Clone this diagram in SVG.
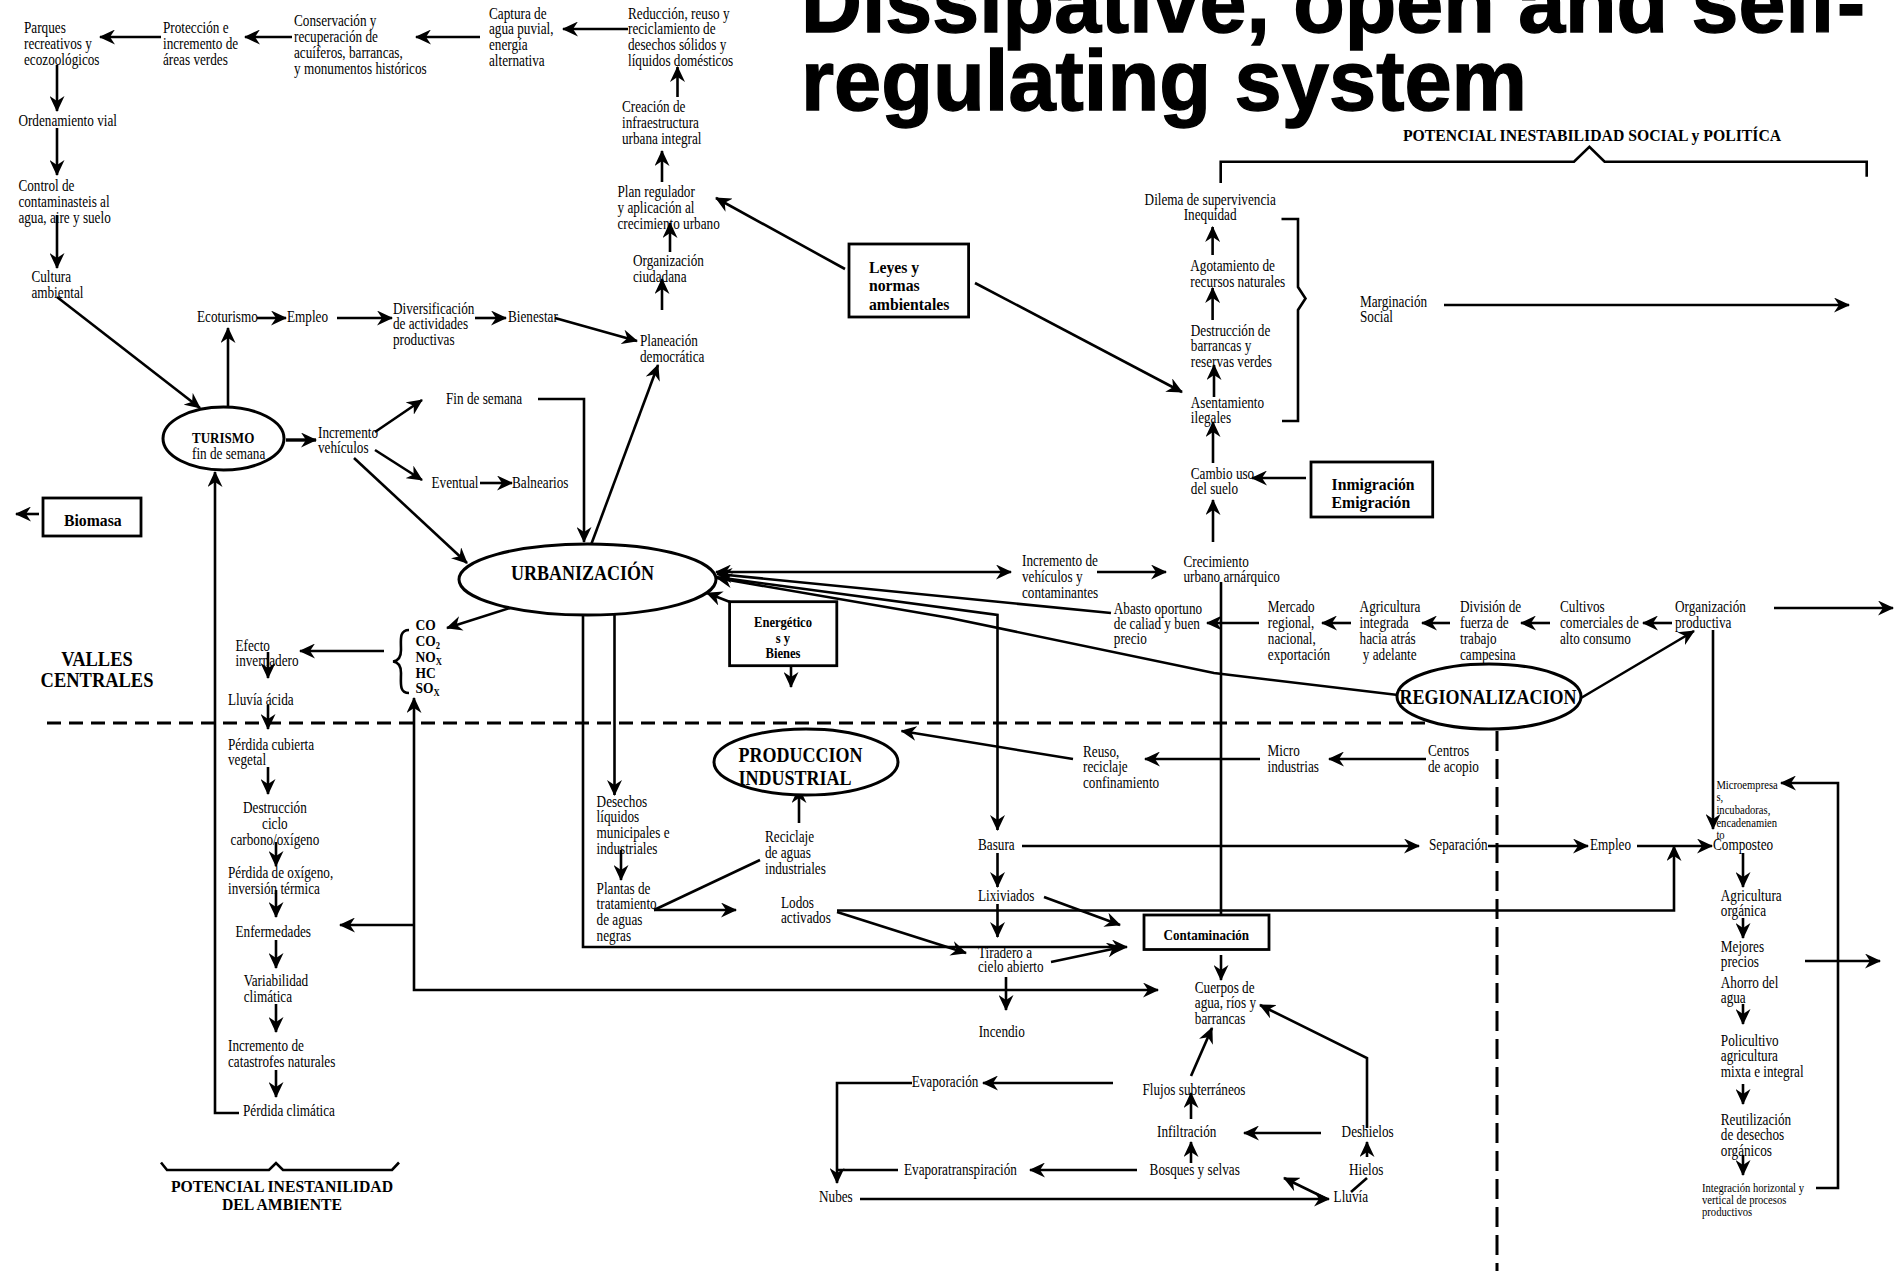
<svg xmlns="http://www.w3.org/2000/svg" width="1895" height="1271" viewBox="0 0 1895 1271">
<defs>
<style>
.t{font-family:"Liberation Serif","Times New Roman",serif;font-size:16.5px;fill:#000}
.s{font-family:"Liberation Serif","Times New Roman",serif;font-size:12.5px;fill:#000}
.b{font-family:"Liberation Serif","Times New Roman",serif;font-weight:bold;fill:#000}
.title{font-family:"Liberation Sans",Arial,sans-serif;font-weight:bold;font-size:85px;fill:#000;stroke:#000;stroke-width:1.4}
.c{fill:none;stroke:#000;stroke-width:2.6;stroke-linejoin:miter}
.a{marker-end:url(#ah)}
.a2{marker-start:url(#ah);marker-end:url(#ah)}
.box{fill:#fff;stroke:#000;stroke-width:2.8}
.ell{fill:#fff;stroke:#000;stroke-width:3}
.dh{fill:none;stroke:#000;stroke-width:3;stroke-dasharray:14 8}
.dv{fill:none;stroke:#000;stroke-width:3;stroke-dasharray:20 8}
.br{fill:none;stroke:#000;stroke-width:2.6}
</style>
<marker id="ah" markerUnits="userSpaceOnUse" viewBox="0 0 16 15" markerWidth="16" markerHeight="15" refX="15" refY="7.5" orient="auto-start-reverse">
<path d="M0,0 L16,7.5 L0,15 L5,7.5 Z" fill="#000"/>
</marker>
</defs>
<rect width="1895" height="1271" fill="#fff"/>

<!-- heading -->
<g id="title">
<text class="title" x="801" y="32" textLength="1064" lengthAdjust="spacingAndGlyphs">Dissipative, open and self-</text>
<text class="title" x="801" y="110" textLength="726" lengthAdjust="spacingAndGlyphs">regulating system</text>
</g>

<!-- region separators and braces -->
<g id="separators">
<path class="dh" d="M47,723 L1430,723"/>
<path class="dv" d="M1497,731 L1497,1271"/>
<path class="br" d="M1220.7,183 L1220.7,161.7 L1574,161.7 L1589.4,146.7 L1604.6,161.7 L1866.7,161.7 L1866.7,176.7"/>
<path class="br" d="M1281.5,219 L1298,219 L1298,287 L1305.5,298.5 L1298,310 L1298,421 L1282,421"/>
<path class="br" d="M161,1162.5 L167,1170 L269,1170 L276,1163 L283,1170 L392,1170 L399,1162.5"/>
<path class="br" stroke-width="3.2" d="M409,630 C399,630 401,640 401,650 C401,658 398,661 393,661.5 C398,662 401,665 401,673 C401,683 399,693 409,693"/>
</g>

<g id="connectors" class="c">
<!-- top chain -->
<path class="a" d="M628,29 L563,29"/>
<path class="a" d="M480,37 L416,37"/>
<path class="a" d="M292,37 L245,37"/>
<path class="a" d="M161,37 L100,37"/>
<path class="a" d="M57,65 L57,111"/>
<path class="a" d="M57,128 L57,175"/>
<path class="a" d="M57,215 L57,268"/>
<path class="a" d="M57,297 L200,408"/>
<path class="a" d="M228,407 L228,328"/>
<path class="a" d="M257,318 L286,318"/>
<path class="a" d="M337,318 L392,318"/>
<path class="a" d="M475,318 L506,318"/>
<path class="a" d="M555,318 L637,341"/>
<path class="a" d="M662,310 L662,279"/>
<path class="a" d="M670,252 L670,223"/>
<path class="a" d="M662,182 L662,151"/>
<path class="a" d="M677.5,97 L677.5,67"/>
<path class="a" d="M845,269 L716,198"/>
<path class="a" d="M975,283 L1182,392"/>
<!-- turismo -->
<path class="a" stroke-width="3.4" d="M286,440 L316,440"/>
<path class="a" d="M375,432 L422,400"/>
<path class="a" d="M375,450 L422,480"/>
<path class="a" d="M480,483 L512,483"/>
<path class="a" d="M354,458 L467,563"/>
<path class="a" d="M538,399 L584,399 L584,542"/>
<path class="a" d="M591,545 L658,365"/>
<path class="a" d="M39,514 L16,514"/>
<!-- emissions column -->
<path class="a" d="M510,608 L447,628"/>
<path class="a" d="M384,651 L300,651"/>
<path class="a" d="M268,652 L268,678"/>
<path class="a" d="M268,705 L268,729"/>
<path class="a" d="M268,767 L268,794"/>
<path class="a" d="M276,842 L276,866"/>
<path class="a" d="M276,890 L276,917"/>
<path class="a" d="M276,940 L276,968"/>
<path class="a" d="M276,1004 L276,1032"/>
<path class="a" d="M276,1070 L276,1097"/>
<path class="a" d="M239,1113 L215,1113 L215,472"/>
<path class="a2" d="M414,698 L414,990 L1158,990"/>
<path class="a" d="M414,925 L340,925"/>
<!-- urbanización outputs -->
<path class="a" d="M583,615 L583,947 L1127,947"/>
<path class="a" d="M614.5,615 L614.5,795"/>
<path class="a" d="M621,850 L621,880"/>
<path d="M654,910 L760,860"/>
<path class="a" d="M654,910 L736,910"/>
<path class="a" d="M799,823 L799,788"/>
<path class="a" d="M837,912 L966,953"/>
<path class="a" d="M837,910.5 L1674,910.5 L1674,846"/>
<path class="a" d="M730,602 L707,593"/>
<path class="a" d="M791,667 L791,687"/>
<path class="a2" d="M716,572 L1011,572"/>
<path class="a" d="M1097,572 L1166,572"/>
<path class="a" d="M716,577 L997.5,615 L997.5,830"/>
<path class="a" d="M1111,613 L717,574"/>
<path class="a" d="M1398,695 L1214,673 L950,618 L717,578"/>
<!-- social chain -->
<path class="a" d="M1213,542 L1213,500"/>
<path class="a" d="M1213,463 L1213,422"/>
<path class="a" d="M1214,397 L1214,365"/>
<path class="a" d="M1212.6,320 L1212.6,288"/>
<path class="a" d="M1212.6,255 L1212.6,227"/>
<path class="a" d="M1306,478 L1252,478"/>
<path class="a" d="M1444,305 L1849,305"/>
<path d="M1221,582 L1221,915"/>
<path class="a" d="M1221,955 L1221,980"/>
<!-- regional chain -->
<path class="a" d="M1259,623 L1207,623"/>
<path class="a" d="M1351,623 L1322,623"/>
<path class="a" d="M1450,623 L1422,623"/>
<path class="a" d="M1550,623 L1521,623"/>
<path class="a" d="M1672,623 L1643,623"/>
<path class="a" d="M1774,608 L1893,608"/>
<path class="a" d="M1581,698 L1694,631"/>
<path class="a" d="M1713,630 L1713,829"/>
<path class="a" d="M1073,759 L901.5,731"/>
<path class="a" d="M1260,759 L1145,759"/>
<path class="a" d="M1426,759 L1329,759"/>
<!-- waste -->
<path class="a" d="M1022,846 L1419,846"/>
<path class="a" d="M1488,846 L1588,846"/>
<path class="a" d="M1637,846 L1712,846"/>
<path class="a" d="M997.5,853 L997.5,887"/>
<path class="a" d="M997.5,904 L997.5,937"/>
<path class="a" d="M1044,897 L1120,925"/>
<path class="a" d="M1051,962 L1122,947"/>
<path class="a" d="M1006,977 L1006,1010"/>
<!-- organic chain -->
<path class="a" d="M1743,853 L1743,887"/>
<path class="a" d="M1743,918 L1743,938"/>
<path class="a" d="M1805,961 L1880,961"/>
<path class="a" d="M1743,1004 L1743,1024"/>
<path class="a" d="M1743,1084 L1743,1104"/>
<path class="a" d="M1743,1155 L1743,1175"/>
<path class="a" d="M1816,1188 L1838,1188 L1838,783 L1781,783"/>
<!-- water cycle -->
<path class="a" d="M1191,1076 L1212,1028"/>
<path class="a" d="M1367,1128 L1367,1058 L1260,1005"/>
<path class="a" d="M1113,1083 L983,1083"/>
<path class="a" d="M912,1083 L837,1083 L837,1183"/>
<path d="M898,1170 L837,1170"/>
<path class="a" d="M1137,1170 L1030,1170"/>
<path class="a" d="M1191,1163 L1191,1142"/>
<path class="a" d="M1191,1119 L1191,1093"/>
<path class="a" d="M1321,1133 L1244,1133"/>
<path class="a" d="M1367,1157 L1367,1142"/>
<path d="M1351,1192 L1367,1178"/>
<path class="a" d="M860,1199 L1329,1199"/>
<path class="a" d="M1327,1199 L1284,1178"/>
</g>

<!-- top chain -->
<g id="n-parques"><text class="t" transform="translate(24 33) scale(.8 1)"><tspan x="0">Parques</tspan><tspan x="0" dy="16">recreativos y</tspan><tspan x="0" dy="16">ecozoológicos</tspan></text></g>
<g id="n-proteccion"><text class="t" transform="translate(163 33) scale(.8 1)"><tspan x="0">Protección e</tspan><tspan x="0" dy="16">incremento de</tspan><tspan x="0" dy="16">áreas verdes</tspan></text></g>
<g id="n-conservacion"><text class="t" transform="translate(294 26) scale(.8 1)"><tspan x="0">Conservación y</tspan><tspan x="0" dy="16">recuperación de</tspan><tspan x="0" dy="16">acuíferos, barrancas,</tspan><tspan x="0" dy="16">y monumentos históricos</tspan></text></g>
<g id="n-captura"><text class="t" transform="translate(489 18.5) scale(.8 1)"><tspan x="0">Captura de</tspan><tspan x="0" dy="16">agua puvial,</tspan><tspan x="0" dy="16">energía</tspan><tspan x="0" dy="16">alternativa</tspan></text></g>
<g id="n-reduccion"><text class="t" transform="translate(628 18.5) scale(.8 1)"><tspan x="0">Reducción, reuso y</tspan><tspan x="0" dy="16">reciclamiento de</tspan><tspan x="0" dy="16">desechos sólidos y</tspan><tspan x="0" dy="16">líquidos domésticos</tspan></text></g>
<g id="n-creacion"><text class="t" transform="translate(622 112) scale(.8 1)"><tspan x="0">Creación de</tspan><tspan x="0" dy="16">infraestructura</tspan><tspan x="0" dy="16">urbana integral</tspan></text></g>
<g id="n-plan"><text class="t" transform="translate(617.5 197) scale(.8 1)"><tspan x="0">Plan regulador</tspan><tspan x="0" dy="16">y aplicación al</tspan><tspan x="0" dy="16">crecimiento urbano</tspan></text></g>
<g id="n-organizacion-ciudadana"><text class="t" transform="translate(633 266) scale(.8 1)"><tspan x="0">Organización</tspan><tspan x="0" dy="16">ciudadana</tspan></text></g>
<g id="n-planeacion"><text class="t" transform="translate(640 346) scale(.8 1)"><tspan x="0">Planeación</tspan><tspan x="0" dy="16">democrática</tspan></text></g>
<g id="n-ordenamiento"><text class="t" transform="translate(18.4 125.5) scale(.8 1)">Ordenamiento vial</text></g>
<g id="n-control"><text class="t" transform="translate(18.4 191) scale(.8 1)"><tspan x="0">Control de</tspan><tspan x="0" dy="16">contaminasteis al</tspan><tspan x="0" dy="16">agua, aire y suelo</tspan></text></g>
<g id="n-cultura"><text class="t" transform="translate(31.4 282) scale(.8 1)"><tspan x="0">Cultura</tspan><tspan x="0" dy="16">ambiental</tspan></text></g>
<g id="n-ecoturismo"><text class="t" transform="translate(197 322) scale(.8 1)">Ecoturismo</text></g>
<g id="n-empleo1"><text class="t" transform="translate(287 322) scale(.8 1)">Empleo</text></g>
<g id="n-diversificacion"><text class="t" transform="translate(393 313.5) scale(.8 1)"><tspan x="0">Diversificación</tspan><tspan x="0" dy="16">de actividades</tspan><tspan x="0" dy="16">productivas</tspan></text></g>
<g id="n-bienestar"><text class="t" transform="translate(508 322) scale(.8 1)">Bienestar</text></g>

<g id="n-leyes"><rect class="box" x="849" y="244" width="119.6" height="73"/><text class="b" font-size="17.5" transform="translate(869 273) scale(.9 1)"><tspan x="0">Leyes y</tspan><tspan x="0" dy="18.5">normas</tspan><tspan x="0" dy="18.5">ambientales</tspan></text></g>

<!-- turismo and urbanización -->
<g id="n-turismo"><ellipse class="ell" cx="223.5" cy="438.5" rx="60.5" ry="31.5"/><text class="b" font-size="14.5" transform="translate(192 443) scale(.9 1)">TURISMO</text><text class="t" transform="translate(192 459) scale(.8 1)">fin de semana</text></g>
<g id="n-incremento-vehiculos"><text class="t" transform="translate(318 437.5) scale(.8 1)"><tspan x="0">Incremento</tspan><tspan x="0" dy="16">vehículos</tspan></text></g>
<g id="n-fin-semana"><text class="t" transform="translate(446 403.5) scale(.8 1)">Fin de semana</text></g>
<g id="n-eventual"><text class="t" transform="translate(431.5 487.5) scale(.8 1)">Eventual</text></g>
<g id="n-balnearios"><text class="t" transform="translate(512 487.5) scale(.8 1)">Balnearios</text></g>
<g id="n-biomasa"><rect class="box" x="43" y="498" width="98" height="38"/><text class="b" font-size="17.5" transform="translate(64 526) scale(.9 1)">Biomasa</text></g>
<g id="n-urbanizacion"><ellipse class="ell" cx="587.5" cy="579.5" rx="128.5" ry="35.5"/><text class="b" font-size="20" transform="translate(511 580) scale(.9 1)">URBANIZACIÓN</text></g>
<g id="n-valles"><text class="b" font-size="20.5" text-anchor="middle" transform="translate(97 666) scale(.9 1)"><tspan x="0">VALLES</tspan><tspan x="0" dy="21">CENTRALES</tspan></text></g>
<g id="n-emisiones"><text class="b" font-size="15" transform="translate(415.5 630) scale(.9 1)"><tspan x="0" y="0">CO</tspan><tspan x="0" y="16">CO<tspan font-size="9.5" dy="3">2</tspan></tspan><tspan x="0" y="32">NO<tspan font-size="9.5" dy="3">X</tspan></tspan><tspan x="0" y="48">HC</tspan><tspan x="0" y="63">SO<tspan font-size="9.5" dy="3">X</tspan></tspan></text></g>
<g id="n-energeticos"><rect class="box" x="729.6" y="601.7" width="107.2" height="64"/><text class="b" font-size="14" text-anchor="middle" transform="translate(783 627) scale(.9 1)"><tspan x="0">Energético</tspan><tspan x="0" dy="16">s y</tspan><tspan x="0" dy="15">Bienes</tspan></text></g>

<!-- environmental column -->
<g id="n-efecto"><text class="t" transform="translate(235.5 650.5) scale(.8 1)"><tspan x="0">Efecto</tspan><tspan x="0" dy="16">invernadero</tspan></text></g>
<g id="n-lluvia-acida"><text class="t" transform="translate(228 704.5) scale(.8 1)">Lluvía ácida</text></g>
<g id="n-perdida-cubierta"><text class="t" transform="translate(228 749.5) scale(.8 1)"><tspan x="0">Pérdida cubierta</tspan><tspan x="0" dy="16">vegetal</tspan></text></g>
<g id="n-destruccion-ciclo"><text class="t" transform="translate(230.6 813) scale(.8 1)"><tspan x="15.5">Destrucción</tspan><tspan x="39.3" dy="16">ciclo</tspan><tspan x="0" dy="16">carbono/oxígeno</tspan></text></g>
<g id="n-perdida-oxigeno"><text class="t" transform="translate(228 878) scale(.8 1)"><tspan x="0">Pérdida de oxígeno,</tspan><tspan x="0" dy="16">inversión térmica</tspan></text></g>
<g id="n-enfermedades"><text class="t" transform="translate(235.5 936.5) scale(.8 1)">Enfermedades</text></g>
<g id="n-variabilidad"><text class="t" transform="translate(243.7 986) scale(.8 1)"><tspan x="0">Variabilidad</tspan><tspan x="0" dy="16">climática</tspan></text></g>
<g id="n-catastrofes"><text class="t" transform="translate(228 1051) scale(.8 1)"><tspan x="0">Incremento de</tspan><tspan x="0" dy="16">catastrofes naturales</tspan></text></g>
<g id="n-perdida-climatica"><text class="t" transform="translate(243 1116) scale(.8 1)">Pérdida climática</text></g>
<g id="n-inestabilidad-ambiente"><text class="b" font-size="17.5" text-anchor="middle" transform="translate(282 1192) scale(.9 1)"><tspan x="0">POTENCIAL INESTANILIDAD</tspan><tspan x="0" dy="18">DEL AMBIENTE</tspan></text></g>

<!-- industrial area -->
<g id="n-desechos"><text class="t" transform="translate(596.6 806.5) scale(.8 1)"><tspan x="0">Desechos</tspan><tspan x="0" dy="16">líquidos</tspan><tspan x="0" dy="16">municipales e</tspan><tspan x="0" dy="16">industriales</tspan></text></g>
<g id="n-plantas"><text class="t" transform="translate(596.6 893.5) scale(.8 1)"><tspan x="0">Plantas de</tspan><tspan x="0" dy="16">tratamiento</tspan><tspan x="0" dy="16">de aguas</tspan><tspan x="0" dy="16">negras</tspan></text></g>
<g id="n-reciclaje"><text class="t" transform="translate(765 842) scale(.8 1)"><tspan x="0">Reciclaje</tspan><tspan x="0" dy="16">de aguas</tspan><tspan x="0" dy="16">industriales</tspan></text></g>
<g id="n-lodos"><text class="t" transform="translate(781 907.5) scale(.8 1)"><tspan x="0">Lodos</tspan><tspan x="0" dy="16">activados</tspan></text></g>
<g id="n-produccion"><ellipse class="ell" cx="806" cy="762" rx="92" ry="33"/><text class="b" font-size="20" transform="translate(738.6 762) scale(.9 1)"><tspan x="0">PRODUCCION</tspan><tspan x="0" dy="23">INDUSTRIAL</tspan></text></g>
<g id="n-basura"><text class="t" transform="translate(978 849.5) scale(.8 1)">Basura</text></g>
<g id="n-lixiviados"><text class="t" transform="translate(978 900.5) scale(.8 1)">Lixiviados</text></g>
<g id="n-tiradero"><text class="t" transform="translate(978 957.5) scale(.8 1)"><tspan x="0">Tiradero a</tspan><tspan x="0" dy="15">cielo abierto</tspan></text></g>
<g id="n-incendio"><text class="t" transform="translate(978.7 1037) scale(.8 1)">Incendio</text></g>
<g id="n-reuso"><text class="t" transform="translate(1083 756.5) scale(.8 1)"><tspan x="0">Reuso,</tspan><tspan x="0" dy="16">reciclaje</tspan><tspan x="0" dy="16">confinamiento</tspan></text></g>
<g id="n-micro"><text class="t" transform="translate(1267.6 756) scale(.8 1)"><tspan x="0">Micro</tspan><tspan x="0" dy="16">industrias</tspan></text></g>
<g id="n-centros"><text class="t" transform="translate(1428 756) scale(.8 1)"><tspan x="0">Centros</tspan><tspan x="0" dy="16">de acopio</tspan></text></g>
<g id="n-contaminacion"><rect class="box" x="1144" y="915" width="125" height="34.5"/><text class="b" font-size="14.5" transform="translate(1163.6 940) scale(.9 1)">Contaminación</text></g>
<g id="n-cuerpos"><text class="t" transform="translate(1194.8 992.5) scale(.8 1)"><tspan x="0">Cuerpos de</tspan><tspan x="0" dy="16">agua, ríos y</tspan><tspan x="0" dy="16">barrancas</tspan></text></g>

<!-- water cycle -->
<g id="n-flujos"><text class="t" transform="translate(1142.5 1094.5) scale(.8 1)">Flujos subterráneos</text></g>
<g id="n-evaporacion"><text class="t" transform="translate(911.7 1087) scale(.8 1)">Evaporación</text></g>
<g id="n-infiltracion"><text class="t" transform="translate(1157 1137) scale(.8 1)">Infiltración</text></g>
<g id="n-deshielos"><text class="t" transform="translate(1341.6 1137) scale(.8 1)">Deshielos</text></g>
<g id="n-evapotranspiracion"><text class="t" transform="translate(904 1174.5) scale(.8 1)">Evaporatranspiración</text></g>
<g id="n-bosques"><text class="t" transform="translate(1149.6 1174.5) scale(.8 1)">Bosques y selvas</text></g>
<g id="n-hielos"><text class="t" transform="translate(1349 1174.5) scale(.8 1)">Hielos</text></g>
<g id="n-nubes"><text class="t" transform="translate(819 1202) scale(.8 1)">Nubes</text></g>
<g id="n-lluvia"><text class="t" transform="translate(1333.6 1202) scale(.8 1)">Lluvía</text></g>

<!-- urban growth and social chain -->
<g id="n-incremento-contaminantes"><text class="t" transform="translate(1022 566) scale(.8 1)"><tspan x="0">Incremento de</tspan><tspan x="0" dy="16">vehículos y</tspan><tspan x="0" dy="16">contaminantes</tspan></text></g>
<g id="n-crecimiento"><text class="t" transform="translate(1183.5 566.5) scale(.8 1)"><tspan x="0">Crecimiento</tspan><tspan x="0" dy="16">urbano arnárquico</tspan></text></g>
<g id="n-abasto"><text class="t" transform="translate(1113.8 613.5) scale(.8 1)"><tspan x="0">Abasto oportuno</tspan><tspan x="0" dy="15.5">de caliad y buen</tspan><tspan x="0" dy="15.5">precio</tspan></text></g>
<g id="n-cambio"><text class="t" transform="translate(1190.8 478.5) scale(.8 1)"><tspan x="0">Cambio uso</tspan><tspan x="0" dy="16">del suelo</tspan></text></g>
<g id="n-asentamiento"><text class="t" transform="translate(1190.8 407.5) scale(.8 1)"><tspan x="0">Asentamiento</tspan><tspan x="0" dy="16">ilegales</tspan></text></g>
<g id="n-destruccion-barrancas"><text class="t" transform="translate(1190.8 335.5) scale(.8 1)"><tspan x="0">Destrucción de</tspan><tspan x="0" dy="16">barrancas y</tspan><tspan x="0" dy="16">reservas verdes</tspan></text></g>
<g id="n-agotamiento"><text class="t" transform="translate(1190.3 271) scale(.8 1)"><tspan x="0">Agotamiento de</tspan><tspan x="0" dy="16">recursos naturales</tspan></text></g>
<g id="n-dilema"><text class="t" transform="translate(1144.6 204.5) scale(.8 1)"><tspan x="0">Dilema de supervivencia</tspan><tspan x="48.9" dy="16">Inequidad</tspan></text></g>
<g id="n-marginacion"><text class="t" transform="translate(1360 306.5) scale(.8 1)"><tspan x="0">Marginación</tspan><tspan x="0" dy="16">Social</tspan></text></g>
<g id="n-inestabilidad-social"><text class="b" font-size="17.5" transform="translate(1403 141) scale(.9 1)">POTENCIAL INESTABILIDAD SOCIAL y POLITÍCA</text></g>
<g id="n-inmigracion"><rect class="box" x="1311" y="462" width="121.7" height="55"/><text class="b" font-size="17.5" transform="translate(1331.6 490) scale(.9 1)"><tspan x="0">Inmigración</tspan><tspan x="0" dy="18.5">Emigración</tspan></text></g>

<!-- regional chain -->
<g id="n-mercado"><text class="t" transform="translate(1267.8 612) scale(.8 1)"><tspan x="0">Mercado</tspan><tspan x="0" dy="16">regional,</tspan><tspan x="0" dy="16">nacional,</tspan><tspan x="0" dy="16">exportación</tspan></text></g>
<g id="n-agricultura-integrada"><text class="t" transform="translate(1359.6 612) scale(.8 1)"><tspan x="0">Agricultura</tspan><tspan x="0" dy="16">integrada</tspan><tspan x="0" dy="16">hacia atrás</tspan><tspan x="4" dy="16">y adelante</tspan></text></g>
<g id="n-division"><text class="t" transform="translate(1460 612) scale(.8 1)"><tspan x="0">División de</tspan><tspan x="0" dy="16">fuerza de</tspan><tspan x="0" dy="16">trabajo</tspan><tspan x="0" dy="16">campesina</tspan></text></g>
<g id="n-cultivos"><text class="t" transform="translate(1560 612) scale(.8 1)"><tspan x="0">Cultivos</tspan><tspan x="0" dy="16">comerciales de</tspan><tspan x="0" dy="16">alto consumo</tspan></text></g>
<g id="n-organizacion-productiva"><text class="t" transform="translate(1675 612) scale(.8 1)"><tspan x="0">Organización</tspan><tspan x="0" dy="16">productiva</tspan></text></g>
<g id="n-regionalizacion"><ellipse class="ell" cx="1489" cy="696.5" rx="92" ry="32.5"/><text class="b" font-size="20" transform="translate(1399.5 704) scale(.9 1)">REGIONALIZACION</text></g>

<!-- recycling and organic chain -->
<g id="n-separacion"><text class="t" transform="translate(1429 850) scale(.8 1)">Separación</text></g>
<g id="n-empleo2"><text class="t" transform="translate(1590 850) scale(.8 1)">Empleo</text></g>
<g id="n-composteo"><text class="t" transform="translate(1713 850) scale(.8 1)">Composteo</text></g>
<g id="n-microempresas"><text class="s" transform="translate(1716.4 788.5) scale(.85 1)"><tspan x="0">Microempresa</tspan><tspan x="0" dy="12.7">s,</tspan><tspan x="0" dy="12.7">incubadoras,</tspan><tspan x="0" dy="12.7">encadenamien</tspan><tspan x="0" dy="12.7">to</tspan></text></g>
<g id="n-agricultura-organica"><text class="t" transform="translate(1720.8 900.5) scale(.8 1)"><tspan x="0">Agricultura</tspan><tspan x="0" dy="16">orgánica</tspan></text></g>
<g id="n-mejores"><text class="t" transform="translate(1720.8 951.5) scale(.8 1)"><tspan x="0">Mejores</tspan><tspan x="0" dy="16">precios</tspan></text></g>
<g id="n-ahorro"><text class="t" transform="translate(1720.8 987.5) scale(.8 1)"><tspan x="0">Ahorro del</tspan><tspan x="0" dy="16">agua</tspan></text></g>
<g id="n-policultivo"><text class="t" transform="translate(1720.8 1045.5) scale(.8 1)"><tspan x="0">Policultivo</tspan><tspan x="0" dy="16">agricultura</tspan><tspan x="0" dy="16">mixta e integral</tspan></text></g>
<g id="n-reutilizacion"><text class="t" transform="translate(1720.8 1124.5) scale(.8 1)"><tspan x="0">Reutilización</tspan><tspan x="0" dy="16">de desechos</tspan><tspan x="0" dy="16">orgánicos</tspan></text></g>
<g id="n-integracion"><text class="s" transform="translate(1702 1191.5) scale(.85 1)"><tspan x="0">Integración horizontal y</tspan><tspan x="0" dy="12.3">vertical de procesos</tspan><tspan x="0" dy="12.3">productivos</tspan></text></g>
</svg>
